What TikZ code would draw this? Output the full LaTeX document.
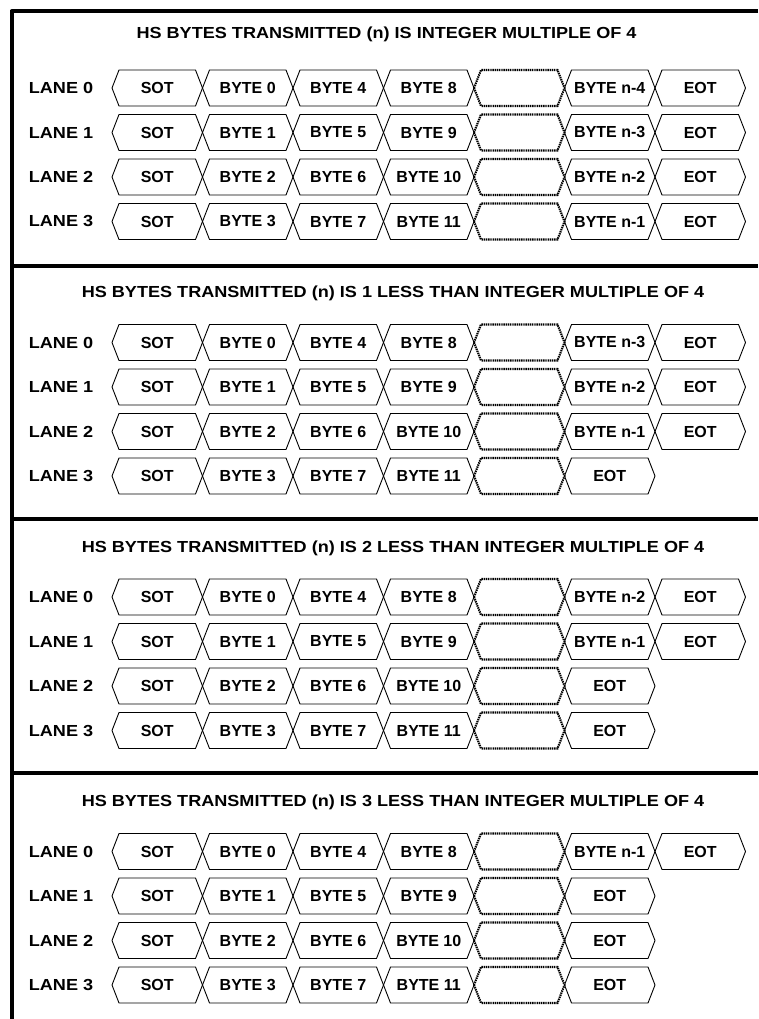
\documentclass[tikz,border=0pt]{standalone}
\usepackage{fontspec}
\setmainfont{Liberation Sans}
\newcommand\hexcell[6]{%
  \draw[#4] (#1,#3) -- ({#1+7},{#3-18}) -- ({#2-7},{#3-18}) -- (#2,#3) -- ({#2-7},{#3+18}) -- ({#1+7},{#3+18}) -- cycle;
  \node[lbl] (#5) at ({(#1+#2)/2},#3) {#6};}
\newcommand\widen[1]{\scalebox{1.13}[1]{#1}}
\begin{document}
\begin{tikzpicture}[x=1pt,y=-1pt,
  frame/.style={line width=4pt, line join=round},
  cell/.style={draw=black, line width=0.9pt, line join=miter},
  gap/.style={draw=black, line width=2.1pt, dash pattern=on 1.4pt off 0.8pt},
  lbl/.style={font=\fontsize{16}{16}\selectfont\bfseries, inner sep=0pt},
  lane/.style={font=\fontsize{16}{16}\selectfont\bfseries, inner sep=0pt},
  ttl/.style={font=\fontsize{16}{16}\selectfont\bfseries, inner sep=0pt}]
\useasboundingbox (0,0) rectangle (758,1019);
% frame
\coordinate (ftr) at (758,11.5);
\coordinate (ftl) at (11.5,11.5);
\coordinate (fbl) at (11.5,1019);
\draw[frame] (ftr) -- (ftl) -- (fbl);
\coordinate (sa1) at (11.5,265.5); \coordinate (sb1) at (758,265.5);
\coordinate (sa2) at (11.5,519);   \coordinate (sb2) at (758,519);
\coordinate (sa3) at (11.5,773);   \coordinate (sb3) at (758,773);
\draw[frame] (sa1) -- (sb1);
\draw[frame] (sa2) -- (sb2);
\draw[frame] (sa3) -- (sb3);
% titles
\node[ttl] (t0) at (386.5,34.5) {\widen{HS BYTES TRANSMITTED (n) IS INTEGER MULTIPLE OF 4}};
\node[ttl] (t1) at (393,293.5) {\widen{HS BYTES TRANSMITTED (n) IS 1 LESS THAN INTEGER MULTIPLE OF 4}};
\node[ttl] (t2) at (393,548) {\widen{HS BYTES TRANSMITTED (n) IS 2 LESS THAN INTEGER MULTIPLE OF 4}};
\node[ttl] (t3) at (393,802) {\widen{HS BYTES TRANSMITTED (n) IS 3 LESS THAN INTEGER MULTIPLE OF 4}};
% lanes
\foreach \s in {0,...,3} {
  \foreach \r in {0,...,3} {
    \pgfmathsetmacro\yy{88+254.5*\s+44.5*\r}
    \pgfmathtruncatemacro\bA{\r+4}
    \pgfmathtruncatemacro\bB{\r+8}
    \pgfmathtruncatemacro\k{4-\s-\r}
    \node[lane] (lane\s\r) at (61,\yy) {\widen{LANE \r}};
    \hexcell{112}{202.5}{\yy}{cell}{sot\s\r}{SOT}
    \hexcell{202.5}{293}{\yy}{cell}{ba\s\r}{BYTE \r}
    \hexcell{293}{383.5}{\yy}{cell}{bb\s\r}{BYTE \bA}
    \hexcell{383.5}{474}{\yy}{cell}{bc\s\r}{BYTE \bB}
    \hexcell{474}{564.5}{\yy}{gap}{gp\s\r}{}
    \ifnum\k>0
      \hexcell{564.5}{655}{\yy}{cell}{bn\s\r}{BYTE n-\k}
      \hexcell{655}{745.5}{\yy}{cell}{eot\s\r}{EOT}
    \else
      \hexcell{564.5}{655}{\yy}{cell}{eot\s\r}{EOT}
    \fi
  }
}
\end{tikzpicture}
\end{document}
